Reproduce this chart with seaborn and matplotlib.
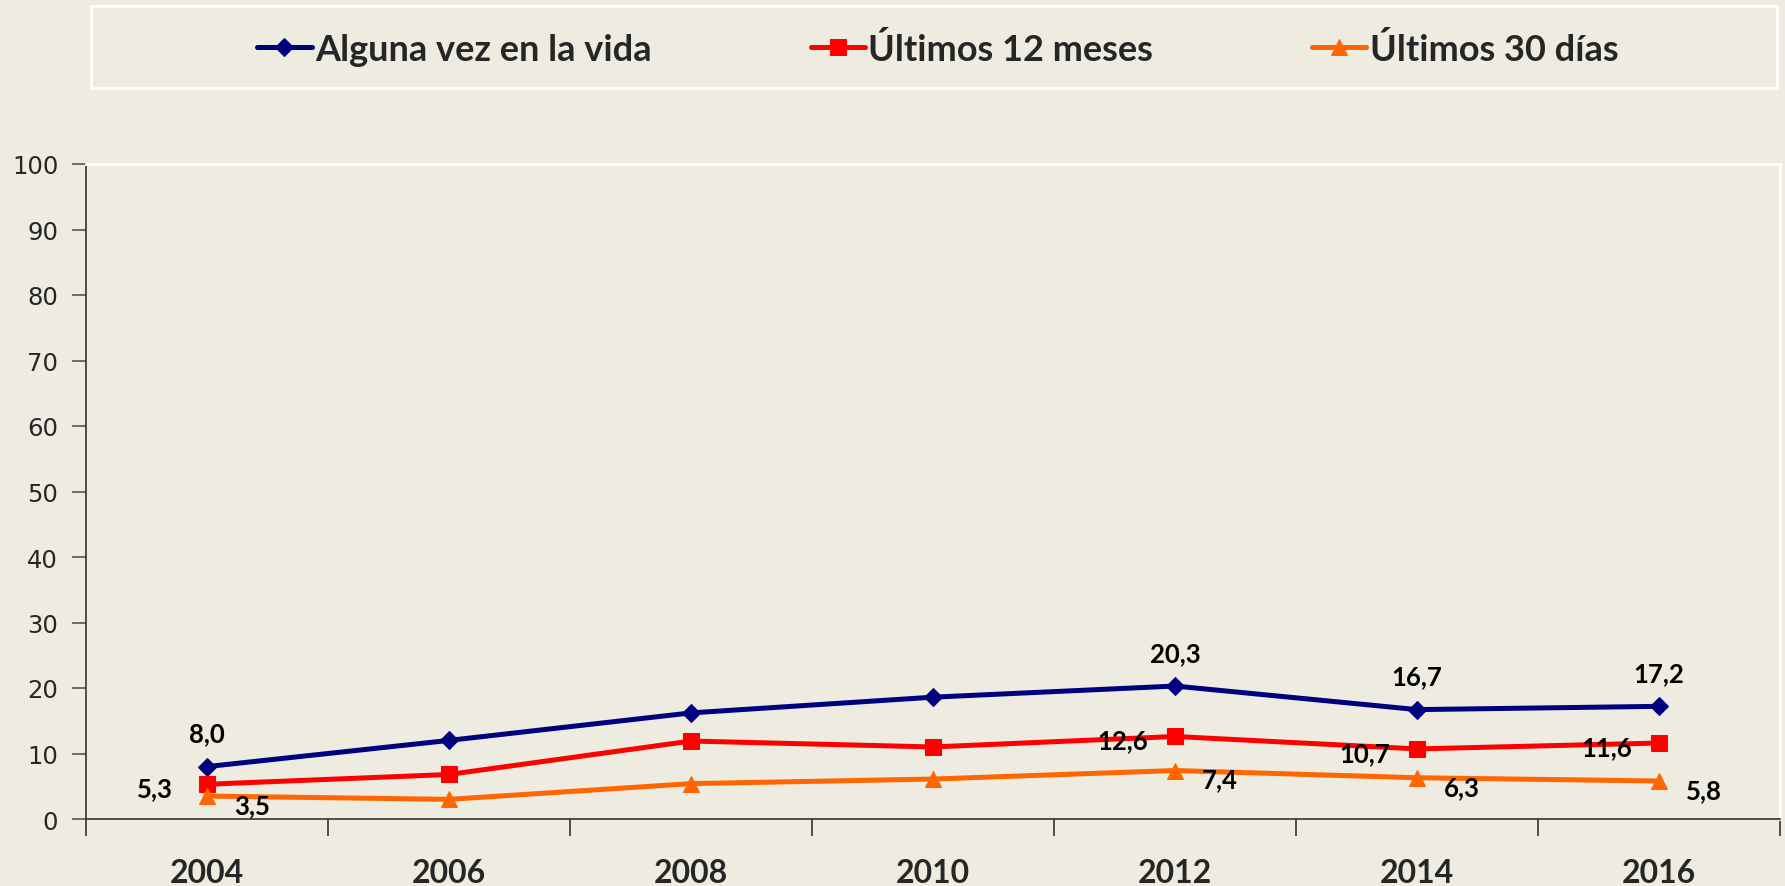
import matplotlib
matplotlib.use("Agg")
import matplotlib.pyplot as plt
import seaborn as sns
import pandas as pd
from matplotlib.patches import Rectangle

years = ["2004", "2006", "2008", "2010", "2012", "2014", "2016"]
alguna_vez = [8.0, 12.0, 16.2, 18.6, 20.3, 16.7, 17.2]
ultimos_12 = [5.3, 6.8, 11.9, 11.0, 12.6, 10.7, 11.6]
ultimos_30 = [3.5, 3.0, 5.4, 6.1, 7.4, 6.3, 5.8]
series_names = ["Alguna vez en la vida", "Últimos 12 meses", "Últimos 30 días"]
labelled = ["2004", "2012", "2014", "2016"]

bg = "#EEEBE0"
colors = ["#000080", "#FF0000", "#FF6600"]
markers = ["D", "s", "^"]
msizes = [9, 12, 12]
# label offsets in pixels (blue above, red left, orange right)
offsets = [(0, 33), (-52, -4), (45, -9)]

sns.set_theme(style="white")
plt.rcParams["font.family"] = ["Lato", "DejaVu Sans"]

fig = plt.figure(figsize=(17.85, 8.87), dpi=100, facecolor=bg)
ax = fig.add_axes([86 / 1785, 1 - 820 / 887, (1780 - 86) / 1785, (820 - 165) / 887])
ax.set_facecolor(bg)

x = list(range(len(years)))
for name, vals, col, mk, ms, off in zip(series_names, [alguna_vez, ultimos_12, ultimos_30],
                                        colors, markers, msizes, offsets):
    df = pd.DataFrame({"x": x, "y": vals})
    sns.lineplot(data=df, x="x", y="y", ax=ax, color=col, linewidth=3.6,
                 marker=mk, markersize=ms, markeredgecolor=col, label=name)
    for xi, yr, v in zip(x, years, vals):
        if yr in labelled:
            ax.annotate(f"{v:.1f}".replace(".", ","), (xi, v), xytext=off,
                        textcoords="offset pixels", ha="center", va="center",
                        fontsize=18.5, fontweight="bold", color="black")

h, l = ax.get_legend_handles_labels()
ax.get_legend().remove()

ax.set_xlim(-0.5, 6.5)
ax.set_ylim(0, 100)
ax.set_yticks(range(0, 101, 10))
ax.set_yticklabels([str(v) for v in range(0, 101, 10)], fontsize=17.5, family="DejaVu Sans")
ax.set_xticks([i - 0.5 for i in range(len(years) + 1)])
ax.set_xticklabels([])
ax.set_xticks(x, minor=True)
ax.set_xticklabels(years, minor=True, fontsize=23, fontweight="bold")
ax.tick_params(axis="x", which="major", direction="out", length=12, width=1.2,
               color="#333333", bottom=True)
ax.tick_params(axis="x", which="minor", length=0, pad=28)
ax.tick_params(axis="y", direction="out", length=10, width=1.2, color="#555555",
               left=True, pad=10)
ax.set_xlabel("")
ax.set_ylabel("")

for s in ["left", "bottom"]:
    ax.spines[s].set_color("#333333")
    ax.spines[s].set_linewidth(1.2)
for s in ["top", "right"]:
    ax.spines[s].set_color("white")
    ax.spines[s].set_linewidth(2)

# legend box
fig.patches.append(Rectangle((91 / 1785, 1 - 89 / 887), (1777 - 91) / 1785, 82 / 887,
                             transform=fig.transFigure, facecolor="none",
                             edgecolor="white", linewidth=2))
fig.legend(h, l, loc="center", bbox_to_anchor=(0.5255, 1 - 50 / 887), ncol=3,
           frameon=False, prop={"size": 26, "weight": "bold"}, handlelength=1.5,
           handletextpad=0.1, columnspacing=4.4)

fig.savefig("out.png", dpi=100, facecolor=bg)
